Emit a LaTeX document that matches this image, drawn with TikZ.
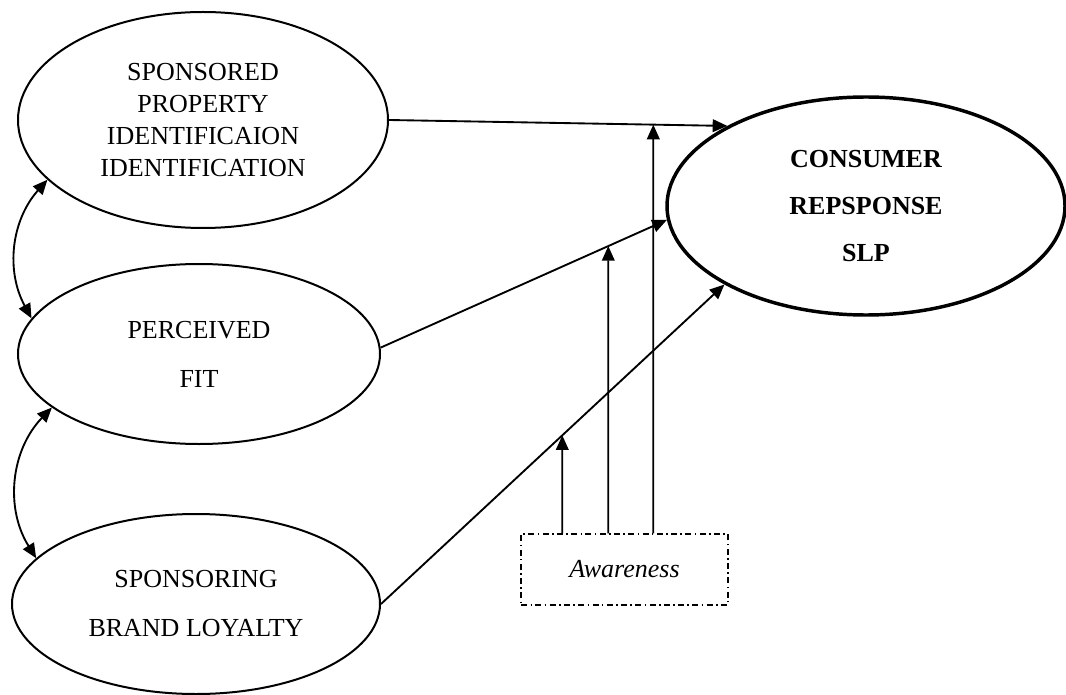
\documentclass[tikz,border=0pt]{standalone}
\usepackage{fontspec}
\setmainfont{Liberation Serif}
\usetikzlibrary{shapes.geometric,arrows.meta,intersections,calc}
\begin{document}
\begin{tikzpicture}[x=0.75pt,y=-0.75pt,
  oval/.style={ellipse,draw,line width=1.5pt,inner sep=0pt,align=center},
  conn/.style={line width=1.4pt,-{Triangle[length=11pt,width=9.5pt]}},
  dconn/.style={line width=1.4pt,{Triangle[length=11pt,width=9.5pt]}-{Triangle[length=11pt,width=9.5pt]}},
  awbox/.style={draw,line width=1.3pt,dash pattern=on 4.5pt off 2.5pt on 1.2pt off 2.5pt,
    minimum width=155pt,minimum height=53pt,inner sep=0pt,font=\fontsize{19.5}{24}\selectfont\itshape}
]
\useasboundingbox (0,0) rectangle (1066,695);

\node[oval,minimum width=277.5pt,minimum height=162pt,font=\fontsize{19.5}{24}\selectfont]
  (top) at (203,120) {SPONSORED\\PROPERTY\\IDENTIFICAION\\IDENTIFICATION};
\node[oval,minimum width=271.5pt,minimum height=135pt,font=\fontsize{19.5}{36.75}\selectfont]
  (fit) at (199,354) {PERCEIVED\\FIT};
\node[oval,minimum width=276pt,minimum height=135pt,font=\fontsize{19.5}{36.75}\selectfont]
  (loy) at (196,604) {SPONSORING\\BRAND LOYALTY};
\node[oval,line width=2.6pt,minimum width=298.5pt,minimum height=163.5pt,font=\fontsize{19.5}{35.6}\selectfont\bfseries]
  (cons) at (866,206) {CONSUMER\\REPSPONSE\\SLP};
\node[awbox] (aw) at (624.5,569.5) {Awareness};

\draw[conn,name path=l1] (top.east) -- (cons.150);
\draw[conn,name path=l2] (fit.2) -- (cons.184);
\draw[conn,name path=l3] (loy.east) -- (cons.209);

\draw[dconn] (top.201) to[bend right=35] (fit.168);
\draw[dconn] (fit.200) to[bend right=38] (loy.164);

\path (aw.north west) ++(42,0) coordinate (b1) ++(46,0) coordinate (b2) ++(45,0) coordinate (b3);
\path[name path=v1] (b1) -- ++(0,-450);
\path[name path=v2] (b2) -- ++(0,-450);
\path[name path=v3] (b3) -- ++(0,-450);
\path[name intersections={of=l3 and v1,by=i1}];
\path[name intersections={of=l2 and v2,by=i2}];
\path[name intersections={of=l1 and v3,by=i3}];
\draw[conn] (b1) -- (i1);
\draw[conn] (b2) -- (i2);
\draw[conn] (b3) -- (i3);
\end{tikzpicture}
\end{document}
